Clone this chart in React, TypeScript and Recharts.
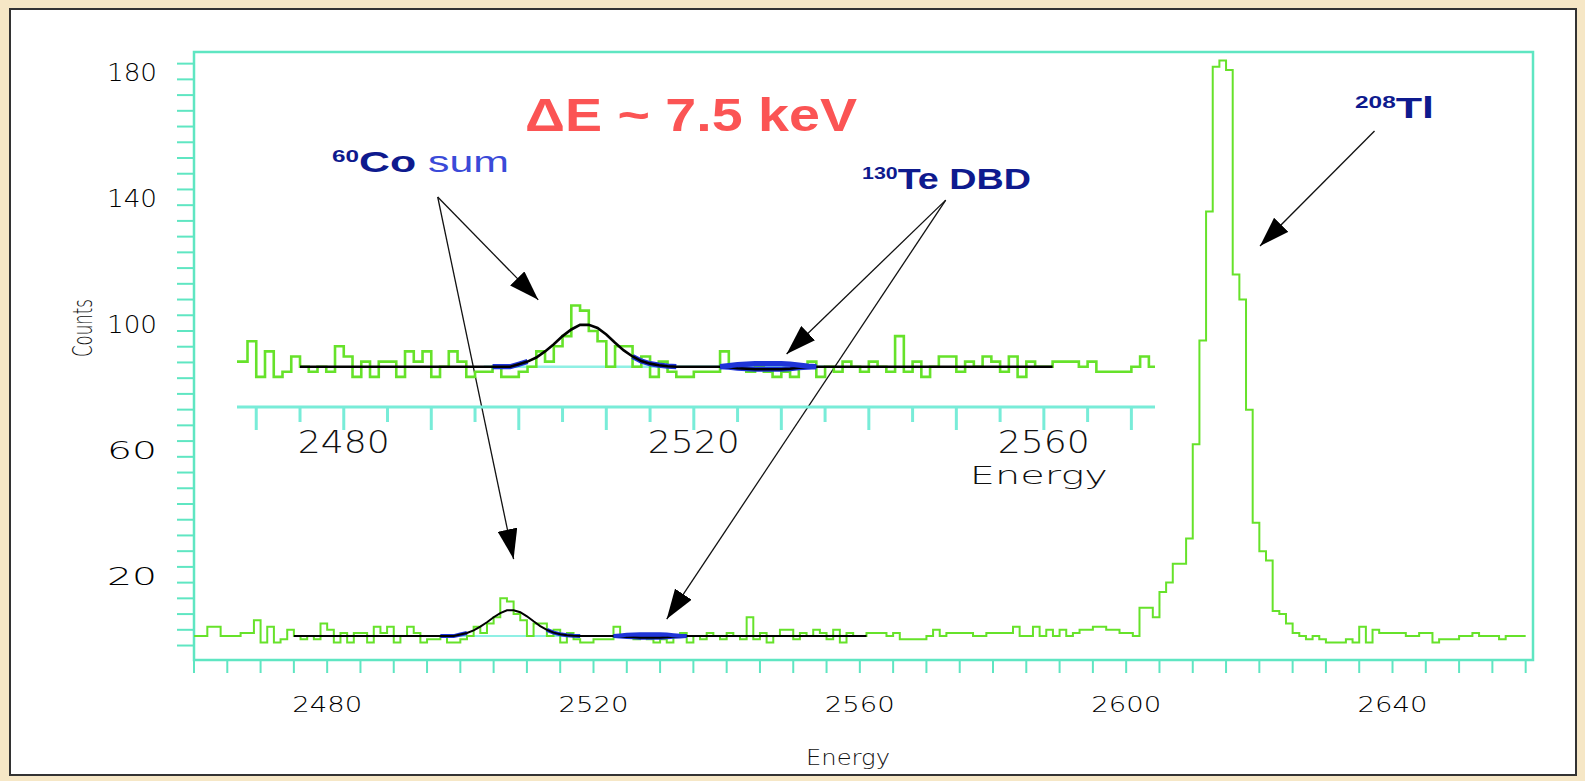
import React from 'react';
import { LineChart, Line, XAxis, YAxis, ReferenceArea, ReferenceLine } from 'recharts';

// ---------------- data ----------------
const ENERGY_START = 2460; // left edge of first 1 keV bin
// counts per 1 keV bin, 2460 ... 2659
const counts: number[] = [
  3, 3, 6, 6, 3, 3, 3, 4, 4, 8,
  1, 6, 1, 2, 5, 3, 2, 3, 2, 7,
  5, 1, 4, 1, 4, 4, 1, 6, 4, 6,
  1, 3, 6, 4, 1, 2, 2, 3, 1, 1,
  2, 3, 6, 4, 7, 9, 15, 14, 10, 8,
  3, 7, 7, 3, 5, 1, 4, 2, 1, 1,
  2, 2, 2, 6, 3, 3, 2, 3, 2, 1,
  2, 1, 3, 4, 1, 3, 2, 4, 3, 2,
  4, 3, 2, 9, 2, 4, 1, 3, 5, 5,
  2, 4, 3, 5, 4, 2, 5, 1, 4, 3,
  3, 4, 4, 4, 3, 4, 2, 2, 2, 2,
  3, 5, 3, 4, 4, 4, 4, 3, 3, 4,
  4, 4, 4, 6, 3, 3, 6, 3, 5, 3,
  5, 3, 4, 5, 5, 6, 6, 5, 5, 4,
  4, 3, 12, 12, 9, 17, 20, 26, 26, 34,
  64, 97, 138, 184, 186, 183, 118, 110, 75, 39,
  30, 27, 11, 10, 7, 4, 3, 2, 3, 2,
  1, 1, 1, 2, 1, 6, 1, 5, 4, 4,
  4, 4, 3, 3, 4, 4, 1, 2, 2, 2,
  3, 3, 4, 3, 3, 3, 2, 3, 3, 3,
];

// fit curve (60Co sum peak + 130Te DBD region), one point per keV from 2475
const FIT_START = 2475;
const fitCounts: number[] = [
  3.0, 3.0, 3.0, 3.0, 3.0, 3.0, 3.0, 3.0, 3.0, 3.0,
  3.0, 3.0, 3.0, 3.0, 3.0, 3.0, 3.0, 3.0, 3.0, 3.0,
  3.0, 3.0, 3.0, 3.0, 3.0,
  3.5, 4.0, 4.8, 6.0, 7.4, 9.0, 10.3, 11.2, 11.2, 10.6,
  9.3, 7.7, 6.2, 5.0, 4.1, 3.6, 3.3, 3.1,
  3.0, 3.0, 3.0, 3.0, 3.0,
  3.0, 2.9, 2.7, 2.6, 2.5, 2.5, 2.5, 2.5, 2.6, 2.8, 2.9, 3.0,
  3.0, 3.0, 3.0, 3.0, 3.0, 3.0, 3.0, 3.0, 3.0, 3.0,
  3.0, 3.0, 3.0, 3.0, 3.0, 3.0, 3.0, 3.0, 3.0, 3.0,
  3.0, 3.0, 3.0, 3.0, 3.0, 3.0, 3.0,
];

// 130Te DBD fitted window (blue)
const DBD_START = 2523;
const dbdUpper: number[] = [3.0, 3.2, 3.4, 3.5, 3.6, 3.6, 3.6, 3.6, 3.5, 3.3, 3.1, 3.0];
const dbdLower: number[] = [3.0, 2.9, 2.7, 2.6, 2.5, 2.5, 2.5, 2.5, 2.6, 2.8, 2.9, 3.0];

// blue shoulders of the Co peak fit
const SHOULDER_L_START = 2497;
const shoulderLeft: number[] = [3.0, 3.0, 3.0, 3.5, 4.0];
const SHOULDER_R_START = 2513;
const shoulderRight: number[] = [5.0, 4.1, 3.6, 3.3, 3.1, 3.0];

// flat background level (cyan)
const bgEnergy: number[] = [2496, 2535];
const bgCounts: number[] = [3, 3];

// axes
const mainXLabels = [2480, 2520, 2560, 2600, 2640];
const mainYLabels = [20, 60, 100, 140, 180];
const insetXLabels = [2480, 2520, 2560];
const mainXTicks = Array.from({ length: 41 }, (_, i) => 2460 + 5 * i);
const mainYTicks = Array.from({ length: 38 }, (_, i) => 5 * i);
const insetXTicks = Array.from({ length: 21 }, (_, i) => 2470 + 5 * i);

// arrows (main chart data coordinates: [fromE, fromCounts, toE, toCounts])
const arrows: number[][] = [
  [2496.6, 142.6, 2511.7, 109.9],
  [2496.6, 142.6, 2508.0, 27.5],
  [2572.9, 141.6, 2549.0, 92.7],
  [2572.9, 141.6, 2531.0, 8.4],
  [2637.3, 163.6, 2620.1, 127.0],
];

// ---------------- helpers ----------------
const pts = (start: number, vals: number[]) => vals.map((v, i) => ({ e: start + i, v }));
const steps = (start: number, vals: number[]) => [
  ...pts(start, vals),
  { e: start + vals.length, v: vals[vals.length - 1] },
];
const pairs = (es: number[], vs: number[]) => es.map((e, i) => ({ e, v: vs[i] }));

const spectrum = steps(ENERGY_START, counts);
const fit = pts(FIT_START, fitCounts);
const dbdU = pts(DBD_START, dbdUpper);
const dbdL = pts(DBD_START, dbdLower);
const shL = pts(SHOULDER_L_START, shoulderLeft);
const shR = pts(SHOULDER_R_START, shoulderRight);
const bg = pairs(bgEnergy, bgCounts);

const W = 1585;
const H = 781;
const X_MAX = 2661.1;
const AXIS_CYAN = '#5fe6c2';
const INSET_CYAN = '#78ecd8';
const GREEN = '#66e22a';
const BLUE = '#1f35d8';
const NAVY = '#0e1a8e';
const TICK_FONT = '"DejaVu Sans", Verdana, sans-serif';

const series = (inset: boolean) => {
  const k = inset ? 1.3 : 1;
  return [
    <Line key="bg" data={bg} dataKey="v" type="linear" stroke="#8ff0e4" strokeWidth={2 * k} dot={false} isAnimationActive={false} />,
    <Line key="spec" data={spectrum} dataKey="v" type="stepAfter" stroke={GREEN} strokeWidth={2 * k} dot={false} isAnimationActive={false} />,
    <Line key="shl" data={shL} dataKey="v" type="linear" stroke={BLUE} strokeWidth={4 * k} dot={false} isAnimationActive={false} />,
    <Line key="shr" data={shR} dataKey="v" type="linear" stroke={BLUE} strokeWidth={4 * k} dot={false} isAnimationActive={false} />,
    <Line key="dbdl" data={dbdL} dataKey="v" type="linear" stroke={BLUE} strokeWidth={4 * k} dot={false} isAnimationActive={false} />,
    <Line key="fit" data={fit} dataKey="v" type="linear" stroke="#000" strokeWidth={2 * k} dot={false} isAnimationActive={false} />,
    <Line key="dbdu" data={dbdU} dataKey="v" type="linear" stroke={BLUE} strokeWidth={4 * k} dot={false} isAnimationActive={false} />,
  ];
};

const MainXTick = (p: any) => {
  const { x, y, payload } = p;
  const v = payload.value;
  return (
    <g>
      <line x1={x} y1={y} x2={x} y2={y + 13} stroke={AXIS_CYAN} strokeWidth={2} />
      {mainXLabels.includes(v) && (
        <text x={x} y={y + 52} textAnchor="middle" fontSize={22} fontWeight={200} fontFamily={TICK_FONT}
          fill="#000" textLength={70} lengthAdjust="spacingAndGlyphs">{v}</text>
      )}
    </g>
  );
};

const MainYTick = (p: any) => {
  const { x, y, payload } = p;
  const v = payload.value;
  return (
    <g>
      <line x1={x - 17} y1={y} x2={x} y2={y} stroke={AXIS_CYAN} strokeWidth={2} />
      {mainYLabels.includes(v) && (
        <text x={x - 37} y={y + 2} textAnchor="end" fontSize={24} fontWeight={200} fontFamily={TICK_FONT}
          fill="#000" textLength={50} lengthAdjust="spacingAndGlyphs">{v}</text>
      )}
    </g>
  );
};

const InsetXTick = (p: any) => {
  const { x, y, payload } = p;
  const v = payload.value;
  const long = v % 10 === 0;
  return (
    <g>
      <line x1={x} y1={y} x2={x} y2={y + (long ? 23 : 15)} stroke={INSET_CYAN} strokeWidth={3} />
      {insetXLabels.includes(v) && (
        <text x={x} y={y + 46} textAnchor="middle" fontSize={32} fontWeight={300} fontFamily={TICK_FONT}
          fill="#111" textLength={92} lengthAdjust="spacingAndGlyphs">{v}</text>
      )}
      {v === 2560 && (
        <text x={x - 5} y={y + 77} textAnchor="middle" fontSize={24} fontWeight={300} fontFamily={TICK_FONT}
          fill="#111" textLength={138} lengthAdjust="spacingAndGlyphs">Energy</text>
      )}
    </g>
  );
};

const ArrowShape = (p: any) => (
  <line x1={p.x1} y1={p.y1} x2={p.x2} y2={p.y2} stroke="#111" strokeWidth={1.3} markerEnd="url(#arrowHead)" />
);

export default function App() {
  return (
    <div style={{ position: 'absolute', left: 0, top: 0, width: W, height: H, background: '#f6e7c6', overflow: 'hidden' }}>
      <div style={{ position: 'absolute', left: 9, top: 8, width: 1568, height: 768, background: '#fff', border: '2px solid #333', boxSizing: 'border-box' }} />

      {/* main spectrum */}
      <div style={{ position: 'absolute', left: 0, top: 0 }}>
        <LineChart width={W} height={H} margin={{ top: 52, right: 52, bottom: 120, left: 193 }}>
          <XAxis type="number" dataKey="e" domain={[2460, X_MAX]} allowDataOverflow ticks={mainXTicks} interval={0}
            height={1} tickSize={0} tickMargin={0} tickLine={false} axisLine={false} tick={MainXTick} />
          <YAxis type="number" domain={[-4.6, 188.7]} allowDataOverflow ticks={mainYTicks} interval={0}
            width={1} tickSize={0} tickMargin={0} tickLine={false} axisLine={false} tick={MainYTick} />
          <ReferenceArea x1={2460} x2={X_MAX} y1={-4.6} y2={188.7} fill="none" fillOpacity={0}
            stroke={AXIS_CYAN} strokeWidth={2.5} ifOverflow="visible" />
          {series(false)}
          {arrows.map((a, i) => (
            <ReferenceLine key={'ar' + i} segment={[{ x: a[0], y: a[1] }, { x: a[2], y: a[3] }]}
              shape={ArrowShape} ifOverflow="visible" />
          ))}
        </LineChart>
      </div>

      {/* inset: zoom of the 2468-2573 keV region */}
      <div style={{ position: 'absolute', left: 0, top: 0 }}>
        <LineChart width={W} height={H} margin={{ top: 280, right: 430, bottom: 373, left: 237 }}>
          <XAxis type="number" dataKey="e" domain={[2467.8, 2572.7]} allowDataOverflow ticks={insetXTicks} interval={0}
            height={1} tickSize={0} tickMargin={0} tickLine={false}
            axisLine={{ stroke: INSET_CYAN, strokeWidth: 3 }} tick={InsetXTick} />
          <YAxis type="number" domain={[-4.9, 20]} allowDataOverflow hide width={0} />
          {series(true)}
        </LineChart>
      </div>

      {/* titles & annotations */}
      <svg width={W} height={H} style={{ position: 'absolute', left: 0, top: 0, pointerEvents: 'none' }}>
        <defs>
          <marker id="arrowHead" markerWidth={30} markerHeight={20} refX={30} refY={10} orient="auto" markerUnits="userSpaceOnUse">
            <path d="M0,0 L30,10 L0,20 Z" fill="#000" />
          </marker>
        </defs>
        <text x={525} y={131} fontSize={46} fontWeight="bold" fontFamily='"Liberation Sans", Arial, sans-serif'
          fill="#fb5454" textLength={332} lengthAdjust="spacingAndGlyphs">ΔE ~ 7.5 keV</text>

        <text x={332} y={172} fontFamily='"Liberation Sans", Arial, sans-serif' textLength={177} lengthAdjust="spacingAndGlyphs">
          <tspan fontSize={17} fontWeight="bold" fill={NAVY} dy={-10}>60</tspan>
          <tspan fontSize={30} fontWeight="bold" fill={NAVY} dy={10}>Co</tspan>
          <tspan fontSize={30} fill="#3a4ad8">{' sum'}</tspan>
        </text>

        <text x={862} y={189} fontFamily='"Liberation Sans", Arial, sans-serif' textLength={169} lengthAdjust="spacingAndGlyphs">
          <tspan fontSize={17} fontWeight="bold" fill={NAVY} dy={-10}>130</tspan>
          <tspan fontSize={30} fontWeight="bold" fill={NAVY} dy={10}>Te DBD</tspan>
        </text>

        <text x={1355} y={118} fontFamily='"Liberation Sans", Arial, sans-serif' textLength={79} lengthAdjust="spacingAndGlyphs">
          <tspan fontSize={17} fontWeight="bold" fill={NAVY} dy={-10}>208</tspan>
          <tspan fontSize={30} fontWeight="bold" fill={NAVY} dy={10}>Tl</tspan>
        </text>

        <text transform="translate(92,328) rotate(-90)" textAnchor="middle" fontSize={26} fontWeight={200}
          fontFamily={TICK_FONT} fill="#111" textLength={58} lengthAdjust="spacingAndGlyphs">Counts</text>
        <text x={848} y={765} textAnchor="middle" fontSize={22} fontWeight={200}
          fontFamily={TICK_FONT} fill="#111" textLength={84} lengthAdjust="spacingAndGlyphs">Energy</text>
      </svg>
    </div>
  );
}
